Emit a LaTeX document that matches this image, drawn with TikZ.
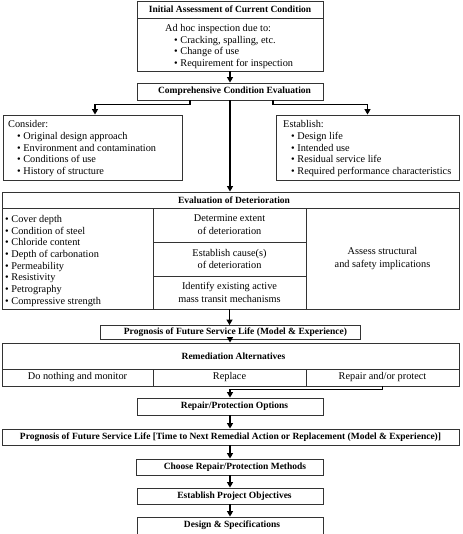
\documentclass[tikz,border=0pt]{standalone}
\usepackage{fontspec}
\setmainfont{Liberation Serif}
\usetikzlibrary{arrows.meta}
\newcommand{\sh}[1]{\hspace*{#1pt}}
\begin{document}
\begin{tikzpicture}[x=1pt,y=-1pt,
  box/.style={draw=black!80, line width=0.9pt, inner sep=0pt, align=center,
    font=\bfseries\fontsize{9.5}{11.6}\selectfont},
  cell/.style={draw=black!80, line width=0.9pt, inner sep=0pt, align=center,
    font=\fontsize{10.3}{12.8}\selectfont},
  txt/.style={inner sep=0pt, align=left, anchor=north west,
    font=\fontsize{10.3}{11.7}\selectfont},
  arr/.style={line width=1.3pt, -{Triangle[width=6pt,length=5.5pt]}}]
\useasboundingbox (0,0) rectangle (462,534);
\clip (0,0) rectangle (462,534);

% Initial assessment
\node[box, minimum width=186pt, minimum height=17pt] (inittitle) at (230,9.5) {Initial Assessment of Current Condition};
\node[cell, minimum width=186pt, minimum height=53pt] (initbody) at (230,44.5) {};
\node[txt] (inittxt) at (165,24) {Ad hoc inspection due to:\\
\sh{9}• Cracking, spalling, etc.\\
\sh{9}• Change of use\\
\sh{9}• Requirement for inspection};

% Comprehensive
\node[box, minimum width=186pt, minimum height=17pt] (comp) at (230,91.5) {\sh{9}Comprehensive Condition Evaluation};

\node[cell, minimum width=179pt, minimum height=65pt] (consider) at (92.5,147.5) {};
\node[txt] (considertxt) at (8,120.5) {Consider:\\
\sh{9}• Original design approach\\
\sh{9}• Environment and contamination\\
\sh{9}• Conditions of use\\
\sh{9}• History of structure};

\node[cell, minimum width=183pt, minimum height=65pt] (establish) at (367.5,147.5) {};
\node[txt] (establishtxt) at (283,120.5) {Establish:\\
\sh{8}• Design life\\
\sh{8}• Intended use\\
\sh{8}• Residual service life\\
\sh{8}• Required performance characteristics};

% Evaluation of deterioration
\node[box, minimum width=457pt, minimum height=16pt] (evaltitle) at (230.5,200) {\sh{7}Evaluation of Deterioration};
\node[cell, minimum width=151pt, minimum height=101pt] (evalleft) at (77.5,258.5) {};
\node[txt] (evallefttxt) at (5,215) {• Cover depth\\
• Condition of steel\\
• Chloride content\\
• Depth of carbonation\\
• Permeability\\
• Resistivity\\
• Petrography\\
• Compressive strength};
\node[cell, minimum width=153pt, minimum height=34pt] (evalm1) at (229.5,225) {Determine extent\\of deterioration};
\node[cell, minimum width=153pt, minimum height=34pt] (evalm2) at (229.5,259) {Establish cause(s)\\of deterioration};
\node[cell, minimum width=153pt, minimum height=33pt] (evalm3) at (229.5,292.5) {Identify existing active\\mass transit mechanisms};
\node[cell, minimum width=153pt, minimum height=101pt] (evalright) at (382.5,258.5) {Assess structural\\and safety implications};

% Prognosis 1
\node[box, minimum width=260pt, minimum height=14pt] (prog1) at (230,332.5) {\sh{11}Prognosis of Future Service Life (Model \& Experience)};

% Remediation
\node[box, minimum width=457pt, minimum height=26pt] (remtitle) at (230.5,356) {\sh{6}Remediation Alternatives};
\node[cell, minimum width=151pt, minimum height=17pt] (rem1) at (77.5,377.5) {Do nothing and monitor};
\node[cell, minimum width=153pt, minimum height=17pt] (rem2) at (229.5,377.5) {Replace};
\node[cell, minimum width=153pt, minimum height=17pt] (rem3) at (382.5,377.5) {Repair and/or protect};

\node[box, minimum width=186pt, minimum height=17pt] (repopt) at (230,406.5) {\sh{9}Repair/Protection Options};
\node[box, minimum width=457pt, minimum height=16pt] (prog2) at (230.5,437) {Prognosis of Future Service Life [Time to Next Remedial Action or Replacement (Model \& Experience)]};
\node[box, minimum width=187pt, minimum height=16pt] (choose) at (229.5,467) {\sh{11}Choose Repair/Protection Methods};
\node[box, minimum width=186pt, minimum height=16pt] (estobj) at (230,496) {\sh{9}Establish Project Objectives};
\node[box, minimum width=186pt, minimum height=30pt] (design) at (230,532) {};
\node[inner sep=0pt, font=\bfseries\fontsize{9.5}{11.6}\selectfont] (designtxt) at (232,525.5) {Design \& Specifications};

% connectors
\coordinate (cl) at (190,104.5);
\coordinate (cr) at (273,104.5);
\coordinate (rj) at (382.5,389.5);
\draw[arr] (initbody.south) -- (comp.north);
\draw[arr] (cl |- comp.south) -- (cl) -| ([xshift=2.5pt]consider.north);
\draw[arr] (cr |- comp.south) -- (cr) -| (establish.north);
\draw[arr] (comp.south) -- (comp.south |- evaltitle.north);
\draw[arr] (evalm3.south) -- (evalm3.south |- prog1.north);
\draw[arr] (prog1.south) -- (prog1.south |- remtitle.north);
\draw[arr] (rem3.south) -- (rj) -| (repopt.north);
\draw[arr] (repopt.south) -- (repopt.south |- prog2.north);
\draw[arr] (repopt.south |- prog2.south) -- (repopt.south |- choose.north);
\draw[arr] (repopt.south |- choose.south) -- (estobj.north);
\draw[arr] (estobj.south) -- (design.north);
\end{tikzpicture}
\end{document}
